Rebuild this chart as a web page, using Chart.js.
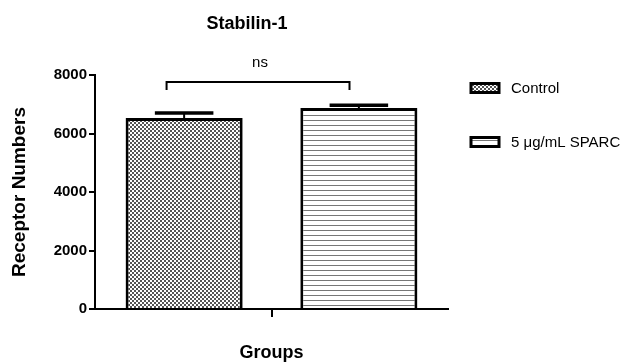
<!DOCTYPE html>
<html lang="en">
<head>
  <meta charset="UTF-8" />
  <title>Stabilin-1</title>
  <script src="https://cdn.jsdelivr.net/npm/chart.js"></script>
  <style>
    html, body { margin: 0; padding: 0; background: #fff; }
    #wrap { width: 630px; height: 364px; }
  </style>
</head>
<body>
<div id="wrap"><canvas id="stabChart" width="630" height="364"></canvas></div>

<script>
  // data
  const groups = ['Control', '5 μg/mL SPARC'];
  const receptorMeans = [6530, 6870];
  const receptorErrors = [170, 100];
  const yTickValues = [0, 2000, 4000, 6000, 8000];
  const xLabels = [''];
  const bracketLevel = 7760;
  const bracketText = 'ns';

  const FONT = '"Liberation Sans", Arial, sans-serif';

  // fill patterns
  function checkerPattern() {
    const c = document.createElement('canvas');
    c.width = 4; c.height = 4;
    const g = c.getContext('2d');
    g.fillStyle = '#fff'; g.fillRect(0, 0, 4, 4);
    g.fillStyle = '#555';
    g.fillRect(0, 0, 2, 2);
    g.fillRect(2, 2, 2, 2);
    return g.createPattern(c, 'repeat');
  }
  function stripePattern() {
    const c = document.createElement('canvas');
    c.width = 4; c.height = 5;
    const g = c.getContext('2d');
    g.fillStyle = '#fff'; g.fillRect(0, 0, 4, 5);
    g.fillStyle = '#777';
    g.fillRect(0, 0, 4, 1);
    return g.createPattern(c, 'repeat');
  }
  const fills = [checkerPattern(), stripePattern()];

  // error bars, significance bracket, title and legend
  const extras = {
    id: 'extras',
    afterDatasetsDraw(chart) {
      const ctx = chart.ctx;
      const y = chart.scales.y;
      const bars = [];
      ctx.save();
      ctx.strokeStyle = '#000';
      chart.data.datasets.forEach((ds, i) => {
        const bar = chart.getDatasetMeta(i).data[0];
        bars.push(bar);
        const top = y.getPixelForValue(receptorMeans[i] + receptorErrors[i]);
        ctx.lineWidth = 2;
        ctx.beginPath();
        ctx.moveTo(bar.x, bar.y);
        ctx.lineTo(bar.x, top);
        ctx.stroke();
        ctx.lineWidth = 3.5;
        ctx.beginPath();
        ctx.moveTo(bar.x - bar.width / 4, top);
        ctx.lineTo(bar.x + bar.width / 4, top);
        ctx.stroke();
      });

      // bracket
      const by = y.getPixelForValue(bracketLevel);
      const bx1 = bars[0].x - bars[0].width * 0.15;
      const bx2 = bars[1].x - bars[1].width * 0.08;
      ctx.lineWidth = 2;
      ctx.beginPath();
      ctx.moveTo(bx1, by + 8);
      ctx.lineTo(bx1, by);
      ctx.lineTo(bx2, by);
      ctx.lineTo(bx2, by + 8);
      ctx.stroke();
      ctx.fillStyle = '#000';
      ctx.font = '15px ' + FONT;
      ctx.textAlign = 'center';
      ctx.textBaseline = 'middle';
      ctx.fillText(bracketText, (bx1 + bx2) / 2 + 2, by - 19);

      // title
      ctx.font = 'bold 18px ' + FONT;
      ctx.fillText('Stabilin-1', 247, 24);

      // legend
      ctx.textAlign = 'left';
      ctx.font = '15px ' + FONT;
      const legendY = [88, 142];
      groups.forEach((name, i) => {
        const ly = legendY[i];
        ctx.fillStyle = fills[i];
        ctx.fillRect(471, ly - 4.5, 28, 9);
        ctx.lineWidth = 3;
        ctx.strokeStyle = '#000';
        ctx.strokeRect(471, ly - 4.5, 28, 9);
        ctx.fillStyle = '#000';
        ctx.fillText(name, 511, ly + 1);
      });
      ctx.restore();
    }
  };

  new Chart(document.getElementById('stabChart'), {
    type: 'bar',
    data: {
      labels: xLabels,
      datasets: groups.map((name, i) => ({
        label: name,
        data: [receptorMeans[i]],
        backgroundColor: fills[i],
        borderColor: '#000',
        borderWidth: 3,
        categoryPercentage: 0.99,
        barPercentage: 0.67
      }))
    },
    options: {
      responsive: false,
      animation: false,
      layout: { padding: { left: 8, right: 182, top: 75, bottom: 0 } },
      plugins: {
        legend: { display: false },
        tooltip: { enabled: false },
        title: { display: false }
      },
      scales: {
        x: {
          grid: { offset: false, drawOnChartArea: false, drawTicks: true, tickLength: 8, color: '#000', lineWidth: 2 },
          border: { display: true, color: '#000', width: 2 },
          ticks: { display: false },
          title: {
            display: true, text: 'Groups', color: '#000',
            font: { family: FONT, size: 18, weight: 'bold' },
            padding: { top: 0, bottom: 0 }
          },
          afterFit(scale) { scale.height = 55; }
        },
        y: {
          min: 0,
          max: 8000,
          afterBuildTicks(scale) { scale.ticks = yTickValues.map(v => ({ value: v })); },
          grid: { drawOnChartArea: false, drawTicks: true, tickLength: 6, color: '#000', lineWidth: 2 },
          border: { display: true, color: '#000', width: 2 },
          ticks: {
            color: '#000', padding: 2,
            font: { family: FONT, size: 15, weight: 'bold' },
            callback: v => String(v)
          },
          title: {
            display: true, text: 'Receptor Numbers', color: '#000',
            font: { family: FONT, size: 19, weight: 'bold' },
            padding: { top: 0, bottom: 0 }
          },
          afterFit(scale) { scale.width = 87; }
        }
      }
    },
    plugins: [extras]
  });
</script>
</body>
</html>
